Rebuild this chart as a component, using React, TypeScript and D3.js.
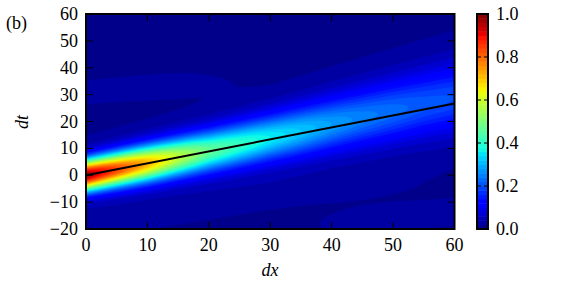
import React from "react";
import * as d3 from "d3";

// ---- data ----
const xTicks = [0, 10, 20, 30, 40, 50, 60];
const yTicks = [-20, -10, 0, 10, 20, 30, 40, 50, 60];
const cbTicks = [0.0, 0.2, 0.4, 0.6, 0.8, 1.0];

// column knots (dx) at which the field profile was read
const dxKnots = [0, 5, 10, 15, 20, 25, 30, 35, 40, 45, 50, 55, 60];
const ridgeCenter = [0, 2.2, 4.4, 6.7, 9.0, 11.4, 13.9, 16.4, 19.0, 21.5, 24.0, 26.5, 28.8];
const ridgePeak = [0.97, 0.84, 0.72, 0.58, 0.47, 0.41, 0.36, 0.32, 0.28, 0.25, 0.23, 0.21, 0.2];
const ridgeWidth = [4.0, 4.3, 4.6, 4.9, 5.2, 5.5, 5.8, 6.2, 6.6, 7.0, 7.4, 7.8, 8.2];
const tailAmp = [0.035, 0.035, 0.035, 0.035, 0.035, 0.035, 0.035, 0.035, 0.035, 0.035, 0.035, 0.035, 0.035];
const tailWidth = [9, 9.5, 10, 10.5, 11, 11.5, 12, 12.5, 13, 13.5, 14, 14.5, 15];
const upperBandCenter = [31, 32, 33, 34, 35, 36, 37, 38, 39, 40, 41, 42, 43];
const upperBandAmp = [0.018, 0.018, 0.018, 0.016, 0.01, 0.005, 0, 0, 0, 0, 0, 0, 0];
const lowerBandCenter = [-17, -16, -15, -13, -11, -9, -7, -5.5, -4.5, -3.5, -3, -2.5, -2];
const lowerBandAmp = [0.018, 0.02, 0.02, 0.02, 0.02, 0.02, 0.02, 0.018, 0.016, 0.013, 0.009, 0.005, 0.003];
const lowerBand2Center = [-20, -20, -20, -20, -20, -20, -20, -19, -18, -17, -16, -15, -14];
const lowerBand2Amp = [0, 0, 0, 0, 0, 0, 0, 0.005, 0.012, 0.018, 0.02, 0.02, 0.02];
const baseLevel = 0.01;

const lineX = [0, 60];
const lineY = [0, 26.7];

// ---- layout ----
const W = 576, H = 288;
const X0 = 86, X1 = 454.5, Y0 = 14, Y1 = 229;
const CB0 = 477, CB1 = 488;

const FONT = "'Liberation Serif', 'DejaVu Serif', serif";

const jetR = d3.scaleLinear([0, 0.35, 0.66, 0.89, 1], [0, 0, 1, 1, 0.5]).clamp(true);
const jetG = d3.scaleLinear([0, 0.125, 0.375, 0.64, 0.91, 1], [0, 0, 1, 1, 0, 0]).clamp(true);
const jetB = d3.scaleLinear([0, 0.11, 0.34, 0.65, 1], [0.5, 1, 1, 0, 0]).clamp(true);
const jet = (v: number) =>
  d3.rgb(jetR(v) * 255, jetG(v) * 255, jetB(v) * 255).formatHex();

const prof = (arr: number[]) => d3.scaleLinear(dxKnots, arr).clamp(true);
const pC = prof(ridgeCenter), pP = prof(ridgePeak), pW = prof(ridgeWidth);
const pTA = prof(tailAmp), pTW = prof(tailWidth);
const pUC = prof(upperBandCenter), pUA = prof(upperBandAmp);
const pLC = prof(lowerBandCenter), pLA = prof(lowerBandAmp);
const pL2C = prof(lowerBand2Center), pL2A = prof(lowerBand2Amp);
const g = (u: number, s: number) => Math.exp(-(u * u) / (2 * s * s));

function field(dx: number, dt: number) {
  const u = dt - pC(dx);
  const ta = pTA(dx);
  return (
    baseLevel +
    (pP(dx) - baseLevel - ta) * g(u, pW(dx)) +
    ta * g(u, pTW(dx)) +
    pUA(dx) * g(dt - pUC(dx), 4) +
    pLA(dx) * g(dt - pLC(dx), 4) +
    pL2A(dx) * g(dt - pL2C(dx), 4)
  );
}

export default function App() {
  const x = d3.scaleLinear([0, 60], [X0, X1]);
  const y = d3.scaleLinear([-20, 60], [Y1, Y0]);
  const cy = d3.scaleLinear([0, 1], [Y1, Y0]);

  const nx = 240, ny = 320;
  const values = new Float64Array(nx * ny);
  for (let j = 0; j < ny; j++) {
    const dt = 60 - ((j + 0.5) * 80) / ny;
    for (let i = 0; i < nx; i++) {
      const dx = ((i + 0.5) * 60) / nx;
      values[i + j * nx] = field(dx, dt);
    }
  }
  const step = 0.02;
  const levels = d3.range(0, 1.0 + 1e-9, step);
  const contours = d3.contours().size([nx, ny]).thresholds(levels)(values as any);
  const cw = (X1 - X0) / nx, ch = (Y1 - Y0) / ny;
  const proj = d3.geoTransform({
    point(px: number, py: number) {
      (this as any).stream.point(X0 + px * cw, Y0 + py * ch);
    },
  });
  const path = d3.geoPath(proj as any);

  const cbLevels = d3.range(0, 1, step);
  const lineGen = d3.line<number>().x((_, i) => x(lineX[i])).y((d) => y(d));

  return (
    <svg width={W} height={H} style={{ position: "absolute", left: 0, top: 0, background: "#fff" }}>
      <defs>
        <clipPath id="plotClip">
          <rect x={X0} y={Y0} width={X1 - X0} height={Y1 - Y0} />
        </clipPath>
      </defs>
      <g clipPath="url(#plotClip)">
        {contours.map((c, k) => (
          <path key={k} d={path(c as any) || ""} fill={jet(c.value + step / 2)} stroke={jet(c.value + step / 2)} strokeWidth={0.3} />
        ))}
        <path d={lineGen(lineY) || ""} fill="none" stroke="#000" strokeWidth={2} />
      </g>
      {/* ticks */}
      {xTicks.map((t) => (
        <g key={"xt" + t}>
          <line x1={x(t)} x2={x(t)} y1={Y1} y2={Y1 - 7} stroke="#000" strokeWidth={1} />
          <line x1={x(t)} x2={x(t)} y1={Y0} y2={Y0 + 7} stroke="#000" strokeWidth={1} />
          <text x={x(t)} y={251} textAnchor="middle" fontFamily={FONT} fontSize={18}>
            {t < 0 ? "\u2212" + Math.abs(t) : t}
          </text>
        </g>
      ))}
      {yTicks.map((t) => (
        <g key={"yt" + t}>
          <line x1={X0} x2={X0 + 7} y1={y(t)} y2={y(t)} stroke="#000" strokeWidth={1} />
          <line x1={X1} x2={X1 - 7} y1={y(t)} y2={y(t)} stroke="#000" strokeWidth={1} />
          <text x={78} y={y(t) + 6} textAnchor="end" fontFamily={FONT} fontSize={18}>
            {t < 0 ? "\u2212" + Math.abs(t) : t}
          </text>
        </g>
      ))}
      <rect x={X0} y={Y0} width={X1 - X0} height={Y1 - Y0} fill="none" stroke="#000" strokeWidth={2} />
      {/* axis labels */}
      <text x={270} y={276} textAnchor="middle" fontFamily={FONT} fontSize={18} fontStyle="italic">dx</text>
      <text transform={`translate(28,122) rotate(-90)`} textAnchor="middle" fontFamily={FONT} fontSize={18} fontStyle="italic">dt</text>
      <text x={6} y={29} fontFamily={FONT} fontSize={18}>(b)</text>
      {/* colorbar */}
      {cbLevels.map((v, k) => (
        <rect key={"cb" + k} x={CB0} width={CB1 - CB0} y={cy(v + step)} height={cy(v) - cy(v + step) + 0.5} fill={jet(v + step / 2)} />
      ))}
      {cbTicks.map((t) => (
        <g key={"cbt" + t}>
          <line x1={CB1} x2={CB1 - 4} y1={cy(t)} y2={cy(t)} stroke="#000" strokeWidth={1} />
          <line x1={CB0} x2={CB0 + 4} y1={cy(t)} y2={cy(t)} stroke="#000" strokeWidth={1} />
          <text x={496} y={cy(t) + 6} fontFamily={FONT} fontSize={18}>{t.toFixed(1)}</text>
        </g>
      ))}
      <rect x={CB0} y={Y0} width={CB1 - CB0} height={Y1 - Y0} fill="none" stroke="#000" strokeWidth={2} />
    </svg>
  );
}
